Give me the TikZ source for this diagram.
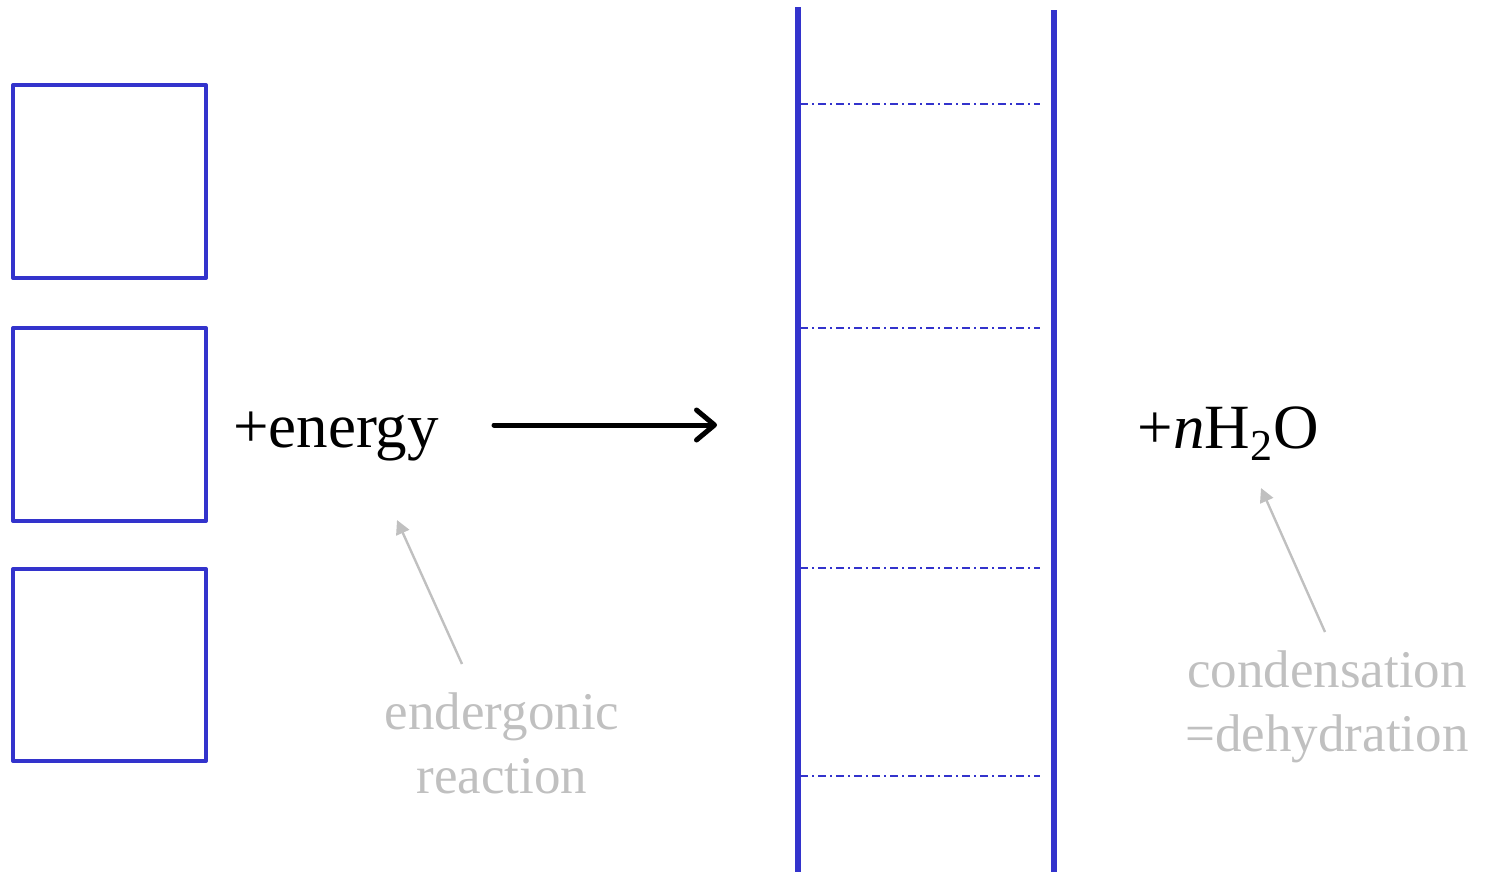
\documentclass[tikz,border=0pt]{standalone}
\usepackage{fontspec}
\setmainfont{Liberation Serif}
\usetikzlibrary{arrows.meta}
\definecolor{bl}{RGB}{51,51,204}
\definecolor{lg}{RGB}{192,192,192}
\tikzset{
  mono/.style={draw=bl,line width=2pt,line join=round},
  rail/.style={draw=bl,line width=2.8pt},
  rung/.style={draw=bl,line width=0.6pt,dash pattern=on 4pt off 2pt on 1pt off 2pt},
  note/.style={text=lg,font=\fontsize{26.5}{32}\selectfont,align=center,inner sep=0pt},
  big/.style={font=\fontsize{31.5}{36}\selectfont,inner sep=0pt},
  pointer/.style={draw=lg,line width=1.2pt,-{Triangle[length=7pt,width=7pt]}},
}
\begin{document}
\begin{tikzpicture}[x=0.5pt,y=-0.5pt]
\useasboundingbox (0,0) rectangle (1486,874);
% monomer boxes
\node[mono,minimum width=96.5pt,minimum height=96.5pt,inner sep=0pt] (m1) at (109.5,181.5) {};
\node[mono,minimum width=96.5pt,minimum height=96.5pt,inner sep=0pt] (m2) at (109.5,424.5) {};
\node[mono,minimum width=96.5pt,minimum height=96pt,inner sep=0pt] (m3) at (109.5,665) {};
% polymer ladder
\coordinate (la) at (798,7);
\coordinate (lb) at (798,872);
\coordinate (ra) at (1054,10);
\coordinate (rb) at (1054,872);
\draw[rail] (la) -- (lb);
\draw[rail] (ra) -- (rb);
\foreach \y/\n in {104/1,328/2,568/3,776/4}{
  \coordinate (r\n a) at (800,\y);
  \coordinate (r\n b) at (1040,\y);
  \draw[rung] (r\n a) -- (r\n b);
}
% texts
\node[big] (en) at (336,436) {+energy};
\node[big] (wa) at (1228,434) {+\textit{n}H\textsubscript{2}O};
\node[note] (eg) at (502,743) {endergonic\\reaction};
\node[note] (cd) at (1327,707) {condensation\\=dehydration};
% main arrow
\coordinate (a1) at (494,425);
\coordinate (a2) at (717,425);
\draw[line width=2.5pt,line cap=round,-{Straight Barb[length=9pt,width=15pt,line cap=round,line join=round]}] (a1) -- (a2);
% pointer arrows
\coordinate (p1) at (462,664);
\coordinate (q1) at (397,520);
\coordinate (p2) at (1325,632);
\coordinate (q2) at (1261,488);
\draw[pointer] (p1) -- (q1);
\draw[pointer] (p2) -- (q2);
\end{tikzpicture}
\end{document}
